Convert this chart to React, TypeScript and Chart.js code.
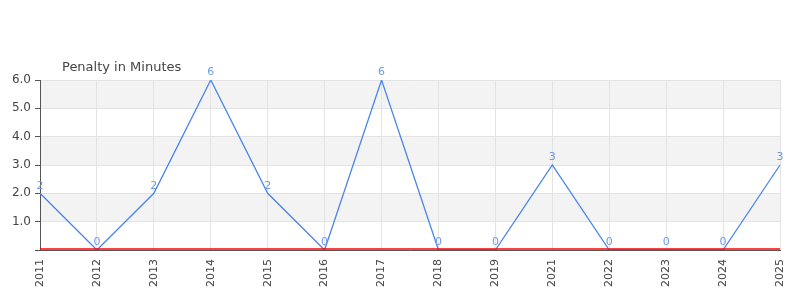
import React, { useEffect, useRef } from "react";
import { Chart, registerables } from "chart.js";

Chart.register(...registerables);

const categories = ["2011", "2012", "2013", "2014", "2015", "2016", "2017", "2018", "2019", "2021", "2022", "2023", "2024", "2025"];
const penaltyMinutes = [2, 0, 2, 6, 2, 0, 6, 0, 0, 3, 0, 0, 0, 3];
const chartTitle = "Penalty in Minutes";
const yMin = 0;
const yMax = 6;

const FONT = "'DejaVu Sans', Verdana, sans-serif";

const bandsPlugin = {
  id: "bands",
  beforeDraw(chart: any) {
    const { ctx, chartArea } = chart;
    const y = chart.scales.y;
    ctx.save();
    ctx.fillStyle = "#f3f3f3";
    for (let v = yMin; v < yMax; v++) {
      if (v % 2 === 1) {
        const top = y.getPixelForValue(v + 1);
        const bot = y.getPixelForValue(v);
        ctx.fillRect(chartArea.left, top, chartArea.right - chartArea.left, bot - top);
      }
    }
    ctx.restore();
  },
};

const overlayPlugin = {
  id: "overlay",
  afterDatasetsDraw(chart: any) {
    const { ctx, chartArea } = chart;
    const y = chart.scales.y;
    const x = chart.scales.x;
    ctx.save();
    // zero line
    const y0 = Math.round(y.getPixelForValue(0));
    ctx.strokeStyle = "#ff0000";
    ctx.lineWidth = 1.5;
    ctx.beginPath();
    ctx.moveTo(chartArea.left, y0 - 1);
    ctx.lineTo(chartArea.right, y0 - 1);
    ctx.stroke();
    // data labels
    ctx.fillStyle = "#6f9be6";
    ctx.font = `11px ${FONT}`;
    ctx.textAlign = "center";
    ctx.textBaseline = "bottom";
    penaltyMinutes.forEach((v, i) => {
      const px = x.getPixelForValue(i);
      const py = y.getPixelForValue(v);
      ctx.fillText(String(v), px, py - 2);
    });
    // title
    ctx.fillStyle = "#444";
    ctx.font = `13px ${FONT}`;
    ctx.textAlign = "left";
    ctx.textBaseline = "alphabetic";
    ctx.fillText(chartTitle, chartArea.left + 22, chartArea.top - 9);
    ctx.restore();
  },
};

export default function App() {
  const ref = useRef<HTMLCanvasElement | null>(null);
  useEffect(() => {
    if (!ref.current) return;
    const chart = new Chart(ref.current, {
      type: "line",
      data: {
        labels: categories,
        datasets: [
          {
            data: penaltyMinutes,
            borderColor: "#4a86e8",
            borderWidth: 1.3,
            pointRadius: 0,
            tension: 0,
            fill: false,
          },
        ],
      },
      options: {
        animation: false,
        responsive: true,
        maintainAspectRatio: false,
        layout: { padding: { top: 72, right: 12, left: 0, bottom: 0 } },
        plugins: { legend: { display: false }, tooltip: { enabled: false }, title: { display: false } },
        scales: {
          x: {
            afterFit: (s: any) => {
              s.height = 50;
              s.paddingLeft = 0;
              s.paddingRight = 0;
            },
            grid: {
              color: "#e3e3e3",
              drawTicks: false,
            },
            border: { color: "#555", width: 1 },
            ticks: {
              color: "#444",
              font: { family: FONT, size: 11 },
              minRotation: 90,
              maxRotation: 90,
              padding: 9,
              autoSkip: false,
            },
          },
          y: {
            min: yMin,
            max: yMax,
            afterFit: (s: any) => {
              s.width = 32;
              s.paddingTop = 0;
              s.paddingBottom = 0;
            },
            grid: {
              color: (c: any) => (c.tick && Number.isInteger(c.tick.value) ? "#e3e3e3" : "rgba(0,0,0,0)"),
              tickColor: "#555",
              tickLength: 5,
            },
            border: { color: "#555", width: 1 },
            ticks: {
              stepSize: 0.5,
              color: "#444",
              font: { family: FONT, size: 12 },
              padding: 4,
              callback: (v: any) => (Number.isInteger(v) && v !== 0 ? Number(v).toFixed(1) : ""),
            },
          },
        },
      },
      plugins: [bandsPlugin, overlayPlugin],
    });
    return () => chart.destroy();
  }, []);
  return (
    <div style={{ width: 784, height: 292, position: "relative" }}>
      <canvas ref={ref} />
    </div>
  );
}
